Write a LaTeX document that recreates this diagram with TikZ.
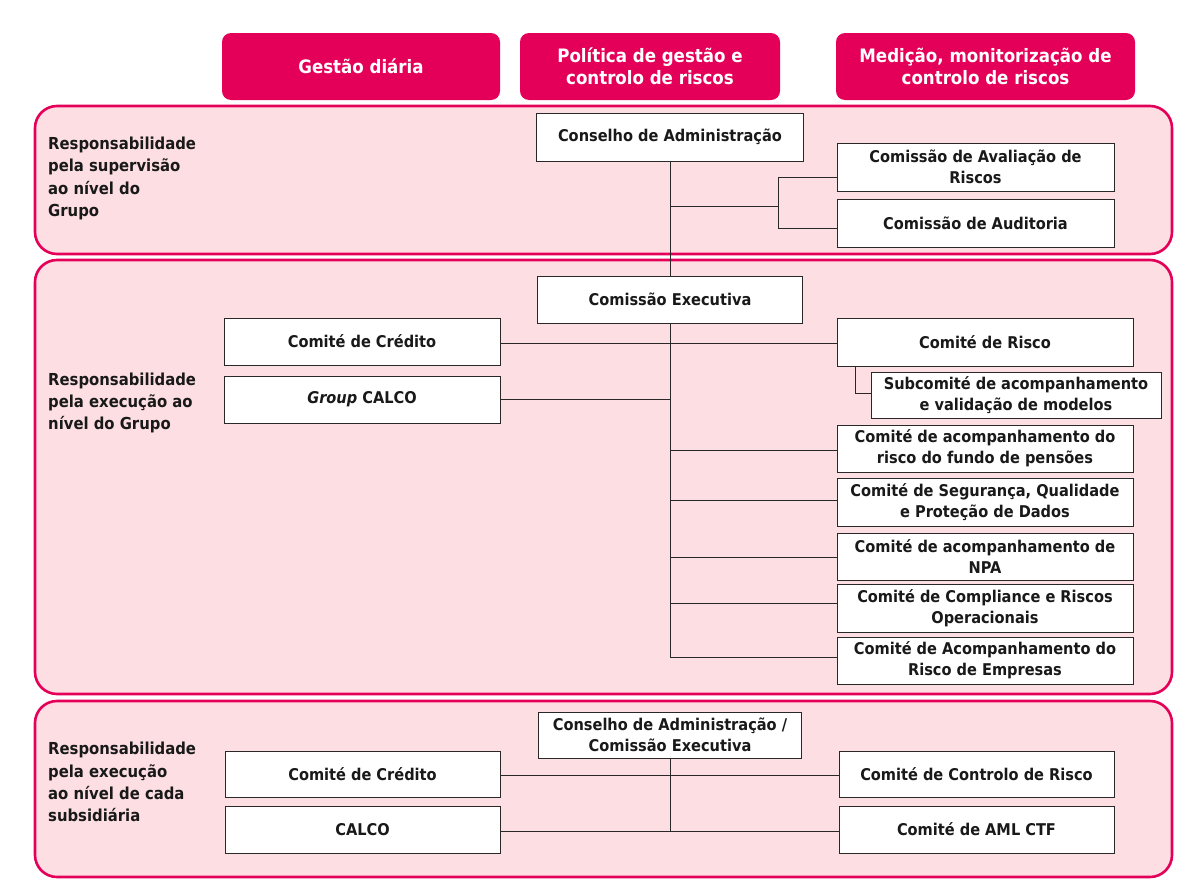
\documentclass[tikz,border=0pt]{standalone}
\usepackage{fontspec}
\setmainfont{DejaVu Sans Condensed}
\definecolor{crimson}{RGB}{228,0,88}
\definecolor{pinkbg}{RGB}{253,223,227}
\definecolor{linegray}{RGB}{40,40,40}
\tikzset{
  hdr/.style={fill=crimson, rounded corners=9pt, text=white, align=center,
    font=\fontsize{18.5}{22}\selectfont\bfseries, inner sep=0pt},
  sect/.style={draw=crimson, fill=pinkbg, line width=2.6pt, rounded corners=22pt},
  orgbox/.style={draw=linegray, fill=white, line width=0.9pt, align=center,
    font=\fontsize{16.2}{21}\selectfont\bfseries, inner sep=0pt, text=black!90},
  sidelbl/.style={anchor=west, align=left, font=\fontsize{16.5}{22.3}\selectfont\bfseries,
    inner sep=0pt, text=black!90},
  conn/.style={draw=linegray, line width=0.9pt},
}
\begin{document}
\begin{tikzpicture}[x=1pt,y=-1pt]
\useasboundingbox (0,0) rectangle (1187,889);
\fill[white] (0,0) rectangle (1187,889);

% headers
\node[hdr, minimum width=278pt, minimum height=67pt] (h1) at (361,66.5) {Gestão diária};
\node[hdr, minimum width=260pt, minimum height=67pt] (h2) at (650,66.5) {Política de gestão e\\controlo de riscos};
\node[hdr, minimum width=299pt, minimum height=67pt] (h3) at (985.5,66.5) {Medição, monitorização de\\controlo de riscos};

% sections
\draw[sect] (35,106) rectangle (1172,254);
\draw[sect] (35,260) rectangle (1172,694);
\draw[sect] (35,701) rectangle (1172,877);

% side labels
\node[sidelbl] (l1) at (48,178.5) {Responsabilidade\\pela supervisão\\ao nível do\\Grupo};
\node[sidelbl] (l2) at (48,403) {Responsabilidade\\pela execução ao\\nível do Grupo};
\node[sidelbl] (l3) at (48,782) {Responsabilidade\\pela execução\\ao nível de cada\\subsidiária};

% section 1
\node[orgbox, minimum width=267pt, minimum height=48pt] (ca) at (670,137) {Conselho de Administração};
\node[orgbox, minimum width=277pt, minimum height=48pt] (cav) at (975.5,167) {Comissão de Avaliação de\\Riscos};
\node[orgbox, minimum width=277pt, minimum height=48pt] (caud) at (975.5,223) {Comissão de Auditoria};

% section 2
\node[orgbox, minimum width=265pt, minimum height=47pt] (ce) at (670,299.5) {Comissão Executiva};
\node[orgbox, minimum width=276pt, minimum height=47pt] (ccred) at (362,341.5) {Comité de Crédito};
\node[orgbox, minimum width=276pt, minimum height=47pt] (gcalco) at (362,399.5) {\textit{Group} CALCO};
\node[orgbox, minimum width=296pt, minimum height=48pt] (crisco) at (985,342) {Comité de Risco};
\node[orgbox, minimum width=290pt, minimum height=46pt] (sub) at (1016,395) {Subcomité de acompanhamento\\e validação de modelos};
\node[orgbox, minimum width=296pt, minimum height=47pt] (cfundo) at (985,448.5) {Comité de acompanhamento do\\risco do fundo de pensões};
\node[orgbox, minimum width=296pt, minimum height=48pt] (cseg) at (985,502) {Comité de Segurança, Qualidade\\e Proteção de Dados};
\node[orgbox, minimum width=296pt, minimum height=47pt] (cnpa) at (985,556.5) {Comité de acompanhamento de\\NPA};
\node[orgbox, minimum width=296pt, minimum height=48pt] (ccomp) at (985,608) {Comité de Compliance e Riscos\\Operacionais};
\node[orgbox, minimum width=296pt, minimum height=47pt] (cemp) at (985,660.5) {Comité de Acompanhamento do\\Risco de Empresas};

% section 3
\node[orgbox, minimum width=263pt, minimum height=46pt] (cace) at (670,735) {Conselho de Administração /\\Comissão Executiva};
\node[orgbox, minimum width=275pt, minimum height=46pt] (ccred2) at (362.5,774) {Comité de Crédito};
\node[orgbox, minimum width=275pt, minimum height=47pt] (calco2) at (362.5,829.5) {CALCO};
\node[orgbox, minimum width=275pt, minimum height=46pt] (cctrl) at (976.5,774) {Comité de Controlo de Risco};
\node[orgbox, minimum width=275pt, minimum height=47pt] (caml) at (976.5,829.5) {Comité de AML CTF};

% connectors section 1-2
\coordinate (j1) at (670,206);
\coordinate (bt) at (778,177);
\coordinate (bb) at (778,228);
\draw[conn] (ca.south) -- (ce.north);
\draw[conn] (j1) -- (j1 -| bt);
\draw[conn] (bt -| cav.west) -- (bt) -- (bb) -- (bb -| caud.west);

% connectors section 2
\coordinate (tend) at (670,657);
\draw[conn] (ce.south) -- (tend);
\draw[conn] (ccred.east |- 0,343) -- (crisco.west |- 0,343);
\draw[conn] (gcalco.east) -- (gcalco.east -| ce.south);
\coordinate (sj) at (855,393);
\draw[conn] (crisco.south -| sj) -- (sj) -- (sub.west |- sj);
\draw[conn] (cfundo.west |- 0,450) -- (ce.south |- 0,450);
\draw[conn] (cseg.west |- 0,500) -- (ce.south |- 0,500);
\draw[conn] (cnpa.west |- 0,557) -- (ce.south |- 0,557);
\draw[conn] (ccomp.west |- 0,603) -- (ce.south |- 0,603);
\draw[conn] (cemp.west |- tend) -- (tend);

% connectors section 3
\coordinate (t3) at (670,832);
\draw[conn] (cace.south) -- (t3);
\draw[conn] (ccred2.east |- 0,775) -- (cctrl.west |- 0,775);
\draw[conn] (calco2.east |- 0,831) -- (caml.west |- 0,831);
\end{tikzpicture}
\end{document}
